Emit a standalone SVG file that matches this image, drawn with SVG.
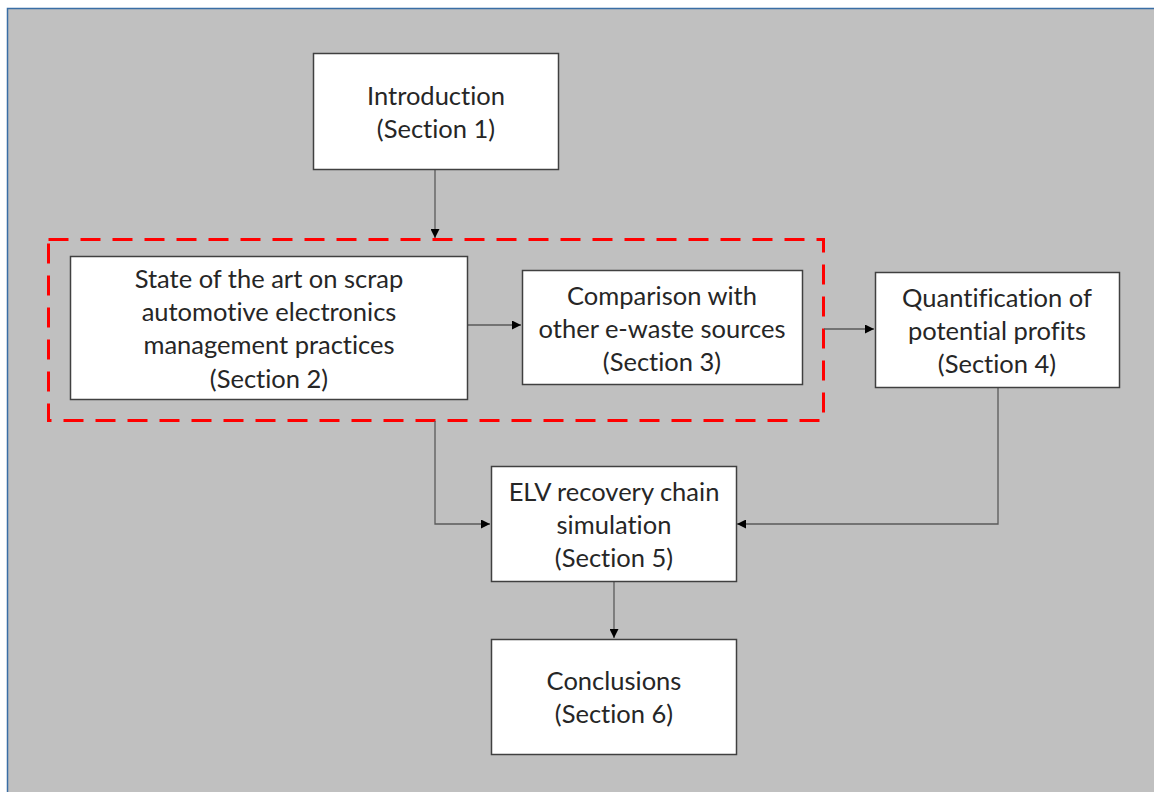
<svg xmlns="http://www.w3.org/2000/svg" width="1154" height="792" viewBox="0 0 1154 792">
  <style>
    .node rect { fill: #ffffff; stroke: #404040; stroke-width: 1.5; }
    .node text { font-family: Lato, "Open Sans", sans-serif; font-size: 25.5px; fill: #262626; text-anchor: middle; font-variant-ligatures: none; }
    .conn { fill: none; stroke: #5a5a5a; stroke-width: 1.3; marker-end: url(#tip); }
  </style>
  <defs>
    <marker id="tip" viewBox="0 0 10 10" refX="10" refY="5" markerWidth="9" markerHeight="9" markerUnits="userSpaceOnUse" orient="auto">
      <path d="M0,0 L10,5 L0,10 z" fill="#000000"/>
    </marker>
  </defs>

  <!-- page background -->
  <rect x="0" y="0" width="1154" height="792" fill="#ffffff"/>
  <rect x="7.5" y="8.5" width="1150" height="790" fill="#c0c0c0" stroke="#3a6ea5" stroke-width="1.5"/>

  <!-- red dashed grouping frame -->
  <rect id="group-frame" x="48.5" y="239.5" width="775" height="181" fill="none" stroke="#ff0000" stroke-width="3" stroke-dasharray="20 12"/>

  <g id="connectors">
    <path class="conn" d="M435,169 V238"/>
    <path class="conn" d="M467,325 H521"/>
    <path class="conn" d="M824,329 H874"/>
    <path class="conn" d="M435,421 V524 H490"/>
    <path class="conn" d="M998,387 V524 H737"/>
    <path class="conn" d="M614,581 V638"/>
  </g>

  <g id="n1" class="node">
    <rect x="313.5" y="53.5" width="245" height="116"/>
    <text x="436" y="105">Introduction</text>
    <text x="436" y="138">(Section 1)</text>
  </g>

  <g id="n2" class="node">
    <rect x="70.5" y="256.5" width="397" height="143"/>
    <text x="269" y="288">State of the art on scrap</text>
    <text x="269" y="321">automotive electronics</text>
    <text x="269" y="354">management practices</text>
    <text x="269" y="388">(Section 2)</text>
  </g>

  <g id="n3" class="node">
    <rect x="522.5" y="270.5" width="280" height="114"/>
    <text x="662" y="305">Comparison with</text>
    <text x="662" y="338">other e-waste sources</text>
    <text x="662" y="371">(Section 3)</text>
  </g>

  <g id="n4" class="node">
    <rect x="875.5" y="272.5" width="244" height="115"/>
    <text x="997" y="307">Quantification of</text>
    <text x="997" y="340">potential profits</text>
    <text x="997" y="373">(Section 4)</text>
  </g>

  <g id="n5" class="node">
    <rect x="491.5" y="466.5" width="245" height="115"/>
    <text x="614" y="501">ELV recovery chain</text>
    <text x="614" y="534">simulation</text>
    <text x="614" y="567">(Section 5)</text>
  </g>

  <g id="n6" class="node">
    <rect x="491.5" y="639.5" width="245" height="115"/>
    <text x="614" y="690">Conclusions</text>
    <text x="614" y="723">(Section 6)</text>
  </g>
</svg>
